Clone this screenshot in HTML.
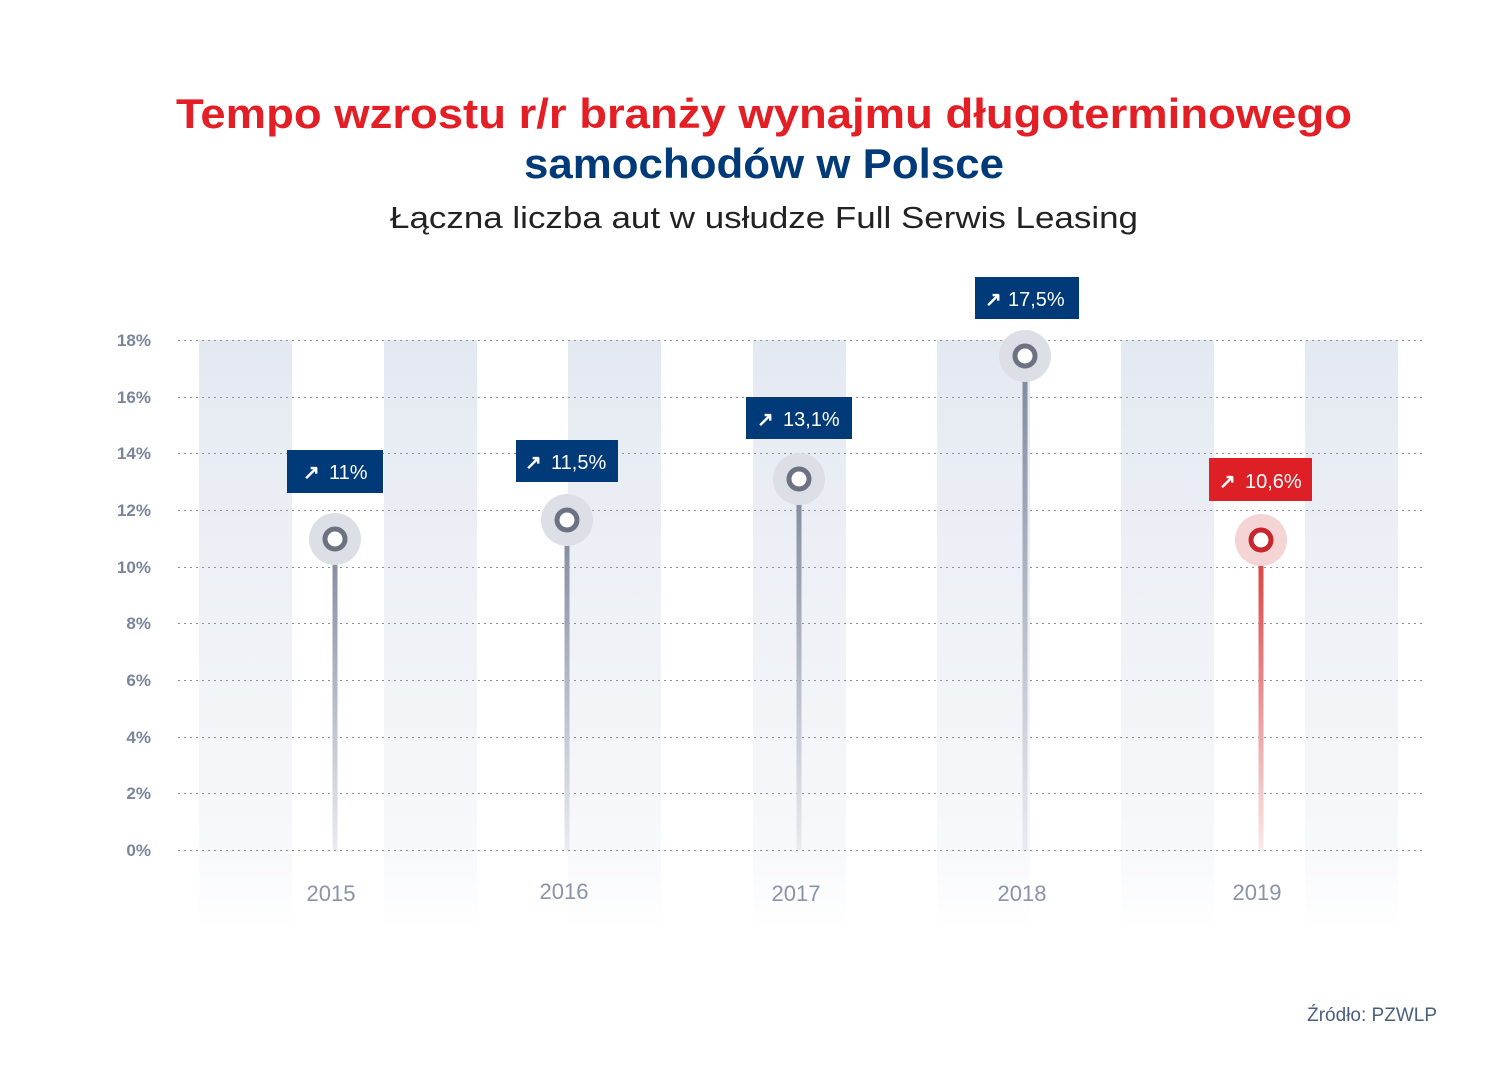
<!DOCTYPE html>
<html><head><meta charset="utf-8"><style>
html,body{margin:0;padding:0;background:#fff}
svg{display:block}
text{font-family:"Liberation Sans",sans-serif}
</style></head><body>
<svg width="1500" height="1091" viewBox="0 0 1500 1091" xmlns="http://www.w3.org/2000/svg">
<defs>
<linearGradient id="band" x1="0" y1="0" x2="0" y2="1">
<stop offset="0" stop-color="#e4e9f1"/><stop offset="0.85" stop-color="#f7f8fb"/><stop offset="1" stop-color="#ffffff"/>
</linearGradient>
<linearGradient id="gl" x1="0" y1="0" x2="0" y2="1">
<stop offset="0" stop-color="#7e879c"/><stop offset="1" stop-color="#e9ebf0"/>
</linearGradient>
<linearGradient id="rl" x1="0" y1="0" x2="0" y2="1">
<stop offset="0" stop-color="#d63838"/><stop offset="1" stop-color="#fbe9e9"/>
</linearGradient>
</defs>
<text x="764" y="128" text-anchor="middle" font-size="42" font-weight="bold" fill="#e31e24" textLength="1176" lengthAdjust="spacingAndGlyphs">Tempo wzrostu r/r branży wynajmu długoterminowego</text>
<text x="764" y="178" text-anchor="middle" font-size="42" font-weight="bold" fill="#003a78" textLength="480" lengthAdjust="spacingAndGlyphs">samochodów w Polsce</text>
<text x="764" y="228" text-anchor="middle" font-size="31" fill="#222" textLength="748" lengthAdjust="spacingAndGlyphs">Łączna liczba aut w usłudze Full Serwis Leasing</text>

<g fill="url(#band)">
<rect x="199" y="340" width="93" height="590"/>
<rect x="384" y="340" width="93" height="590"/>
<rect x="568" y="340" width="93" height="590"/>
<rect x="753" y="340" width="93" height="590"/>
<rect x="937" y="340" width="93" height="590"/>
<rect x="1121" y="340" width="93" height="590"/>
<rect x="1305" y="340" width="93" height="590"/>
</g>
<g stroke="#8a8f9a" stroke-width="1" stroke-dasharray="2,4">
<line x1="178" y1="340.5" x2="1422" y2="340.5"/>
<line x1="178" y1="397.5" x2="1422" y2="397.5"/>
<line x1="178" y1="453.5" x2="1422" y2="453.5"/>
<line x1="178" y1="510.5" x2="1422" y2="510.5"/>
<line x1="178" y1="567.5" x2="1422" y2="567.5"/>
<line x1="178" y1="623.5" x2="1422" y2="623.5"/>
<line x1="178" y1="680.5" x2="1422" y2="680.5"/>
<line x1="178" y1="737.5" x2="1422" y2="737.5"/>
<line x1="178" y1="793.5" x2="1422" y2="793.5"/>
<line x1="178" y1="850.5" x2="1422" y2="850.5"/>
</g>
<g font-size="17" fill="#7a849c" font-weight="bold" text-anchor="end">
<text x="151" y="346">18%</text><text x="151" y="403">16%</text><text x="151" y="459">14%</text>
<text x="151" y="516">12%</text><text x="151" y="573">10%</text><text x="151" y="629">8%</text>
<text x="151" y="686">6%</text><text x="151" y="743">4%</text><text x="151" y="799">2%</text>
<text x="151" y="856">0%</text>
</g>
<g font-size="22" fill="#8a93a8" text-anchor="middle">
<text x="331" y="901">2015</text><text x="564" y="899">2016</text><text x="796" y="901">2017</text>
<text x="1022" y="901">2018</text><text x="1257" y="900">2019</text>
</g>

<g>
<rect x="332.5" y="539" width="5" height="311" fill="url(#gl)"/>
<circle cx="335" cy="539" r="26" fill="#dcdfe5"/><circle cx="335" cy="539" r="10" fill="#fff" stroke="#6d7283" stroke-width="5"/>
<rect x="564.5" y="520" width="5" height="330" fill="url(#gl)"/>
<circle cx="567" cy="520" r="26" fill="#dcdfe5"/><circle cx="567" cy="520" r="10" fill="#fff" stroke="#6d7283" stroke-width="5"/>
<rect x="796.5" y="479" width="5" height="371" fill="url(#gl)"/>
<circle cx="799" cy="479" r="26" fill="#dcdfe5"/><circle cx="799" cy="479" r="10" fill="#fff" stroke="#6d7283" stroke-width="5"/>
<rect x="1022.5" y="356" width="5" height="494" fill="url(#gl)"/>
<circle cx="1025" cy="356" r="26" fill="#dcdfe5"/><circle cx="1025" cy="356" r="10" fill="#fff" stroke="#6d7283" stroke-width="5"/>
<rect x="1258.5" y="540" width="5" height="310" fill="url(#rl)"/>
<circle cx="1261" cy="540" r="26" fill="#f4d4d5"/><circle cx="1261" cy="540" r="10" fill="#fff" stroke="#c8262c" stroke-width="5"/>
</g>

<g font-size="20" fill="#fff">
<rect x="287" y="450" width="96" height="43" fill="#003a78"/>
<text x="303" y="479" font-weight="bold">↗</text><text x="329" y="479">11%</text>
<rect x="516" y="440" width="102" height="42" fill="#003a78"/>
<text x="525" y="469" font-weight="bold">↗</text><text x="551" y="469">11,5%</text>
<rect x="746" y="397" width="106" height="42" fill="#003a78"/>
<text x="757" y="426" font-weight="bold">↗</text><text x="783" y="426">13,1%</text>
<rect x="975" y="277" width="104" height="42" fill="#003a78"/>
<text x="985" y="306" font-weight="bold">↗</text><text x="1008" y="306">17,5%</text>
<rect x="1209" y="458" width="103" height="43" fill="#de1f26"/>
<text x="1219" y="488" font-weight="bold">↗</text><text x="1245" y="488">10,6%</text>
</g>

<text x="1437" y="1021" text-anchor="end" font-size="19" fill="#4a5f7e">Źródło: PZWLP</text>
</svg>
</body></html>
